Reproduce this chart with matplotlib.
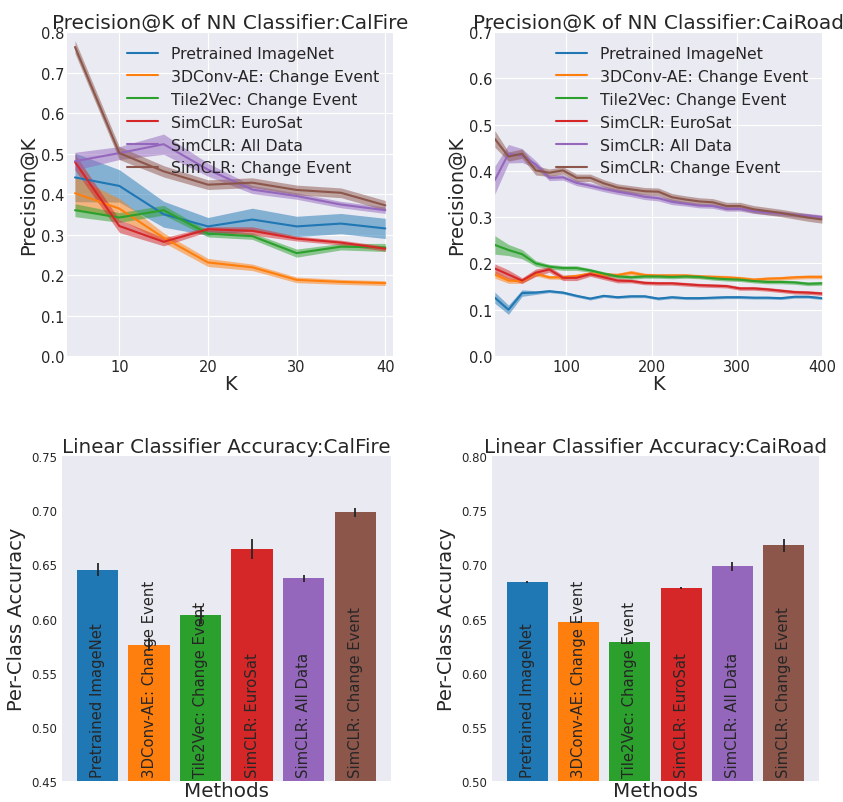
import matplotlib
matplotlib.use('Agg')
import matplotlib.pyplot as plt

methods = ['Pretrained ImageNet', '3DConv-AE: Change Event', 'Tile2Vec: Change Event',
           'SimCLR: EuroSat', 'SimCLR: All Data', 'SimCLR: Change Event']
colors = ['#1f77b4', '#ff7f0e', '#2ca02c', '#d62728', '#9467bd', '#8c564b']

# Precision@K, CalFire
k_fire = [5, 10, 15, 20, 25, 30, 35, 40]
fire_mean = [
    [0.441, 0.420, 0.350, 0.320, 0.337, 0.320, 0.327, 0.315],
    [0.402, 0.364, 0.292, 0.231, 0.219, 0.188, 0.183, 0.180],
    [0.360, 0.342, 0.360, 0.302, 0.296, 0.254, 0.270, 0.268],
    [0.479, 0.321, 0.282, 0.313, 0.309, 0.290, 0.280, 0.265],
    [0.481, 0.501, 0.523, 0.460, 0.411, 0.395, 0.374, 0.360],
    [0.763, 0.501, 0.456, 0.423, 0.428, 0.410, 0.403, 0.372],
]
fire_std = [
    [0.060, 0.040, 0.032, 0.022, 0.028, 0.025, 0.025, 0.025],
    [0.040, 0.025, 0.012, 0.010, 0.008, 0.007, 0.006, 0.006],
    [0.016, 0.012, 0.012, 0.008, 0.008, 0.010, 0.008, 0.010],
    [0.020, 0.016, 0.010, 0.006, 0.010, 0.006, 0.006, 0.006],
    [0.022, 0.016, 0.025, 0.016, 0.010, 0.008, 0.008, 0.008],
    [0.016, 0.016, 0.014, 0.012, 0.012, 0.012, 0.012, 0.012],
]

# Precision@K, CaiRoad
k_road = [16, 32, 48, 64, 80, 96, 112, 128, 144, 160, 176, 192, 208,
          224, 240, 256, 272, 288, 304, 320, 336, 352, 368, 384, 400]
road_mean = [
    [0.126, 0.100, 0.136, 0.137, 0.140, 0.137, 0.130, 0.124, 0.130, 0.127, 0.129, 0.129, 0.124,
     0.127, 0.125, 0.125, 0.126, 0.127, 0.127, 0.126, 0.126, 0.125, 0.128, 0.128, 0.125],
    [0.176, 0.163, 0.162, 0.178, 0.170, 0.170, 0.173, 0.178, 0.176, 0.175, 0.180, 0.175, 0.174,
     0.174, 0.174, 0.172, 0.171, 0.170, 0.168, 0.165, 0.167, 0.168, 0.170, 0.171, 0.171],
    [0.240, 0.229, 0.220, 0.200, 0.193, 0.190, 0.190, 0.185, 0.178, 0.172, 0.170, 0.172, 0.172,
     0.171, 0.172, 0.171, 0.168, 0.166, 0.165, 0.162, 0.160, 0.160, 0.159, 0.156, 0.157],
    [0.189, 0.176, 0.163, 0.180, 0.187, 0.169, 0.169, 0.177, 0.170, 0.163, 0.162, 0.158, 0.157,
     0.157, 0.155, 0.153, 0.152, 0.151, 0.146, 0.146, 0.144, 0.141, 0.138, 0.137, 0.135],
    [0.380, 0.437, 0.433, 0.414, 0.385, 0.386, 0.374, 0.368, 0.361, 0.355, 0.350, 0.344, 0.341,
     0.333, 0.329, 0.325, 0.324, 0.318, 0.318, 0.313, 0.310, 0.308, 0.305, 0.303, 0.300],
    [0.469, 0.431, 0.437, 0.401, 0.396, 0.401, 0.385, 0.385, 0.373, 0.364, 0.360, 0.356, 0.355,
     0.343, 0.338, 0.334, 0.332, 0.324, 0.324, 0.317, 0.313, 0.309, 0.304, 0.299, 0.295],
]
road_std = [
    [0.012, 0.010, 0.007, 0.004, 0.003, 0.003, 0.003, 0.003, 0.003, 0.003, 0.003, 0.003, 0.003,
     0.003, 0.003, 0.003, 0.003, 0.003, 0.003, 0.003, 0.003, 0.003, 0.003, 0.003, 0.003],
    [0.008, 0.006, 0.005, 0.005, 0.004, 0.004, 0.004, 0.004, 0.004, 0.004, 0.005, 0.004, 0.004,
     0.004, 0.004, 0.004, 0.004, 0.004, 0.004, 0.004, 0.004, 0.004, 0.004, 0.004, 0.004],
    [0.020, 0.012, 0.010, 0.006, 0.005, 0.005, 0.005, 0.004, 0.004, 0.004, 0.004, 0.004, 0.004,
     0.004, 0.004, 0.004, 0.004, 0.004, 0.004, 0.004, 0.004, 0.004, 0.004, 0.004, 0.004],
    [0.010, 0.010, 0.006, 0.008, 0.006, 0.006, 0.006, 0.005, 0.005, 0.005, 0.004, 0.004, 0.004,
     0.004, 0.004, 0.004, 0.004, 0.004, 0.004, 0.004, 0.004, 0.004, 0.004, 0.004, 0.004],
    [0.030, 0.020, 0.015, 0.008, 0.006, 0.006, 0.006, 0.006, 0.006, 0.006, 0.006, 0.006, 0.006,
     0.006, 0.005, 0.005, 0.005, 0.005, 0.005, 0.005, 0.005, 0.005, 0.005, 0.005, 0.005],
    [0.018, 0.010, 0.010, 0.010, 0.008, 0.008, 0.008, 0.008, 0.008, 0.008, 0.008, 0.008, 0.008,
     0.008, 0.008, 0.008, 0.008, 0.008, 0.008, 0.008, 0.008, 0.008, 0.008, 0.008, 0.008],
]

# Linear classifier accuracy
fire_acc = [0.645, 0.576, 0.603, 0.664, 0.637, 0.698]
fire_err = [0.006, 0.006, 0.008, 0.009, 0.003, 0.004]
road_acc = [0.684, 0.6465, 0.6287, 0.678, 0.698, 0.7175]
road_err = [0.001, 0.001, 0.001, 0.001, 0.004, 0.006]

plt.style.use('seaborn-v0_8-darkgrid')
plt.rcParams['font.family'] = ['DejaVu Sans']
fig = plt.figure(figsize=(8.43, 8.03), dpi=100)

#上面两幅 Precision@K 曲线
ax1 = fig.add_axes([0.0795, 0.5554, 0.387, 0.4035])
ax2 = fig.add_axes([0.587, 0.5554, 0.388, 0.4035])
top = [(ax1, k_fire, fire_mean, fire_std, 'CalFire', (4.1, 40.9), 0.8),
       (ax2, k_road, road_mean, road_std, 'CaiRoad', (16, 400), 0.7)]
for ax, ks, means, stds, name, xl, ytop in top:
    for i in range(len(methods)):
        lo = [m - s for m, s in zip(means[i], stds[i])]
        hi = [m + s for m, s in zip(means[i], stds[i])]
        ax.plot(ks, means[i], c=colors[i], lw=1.5, label=methods[i])
        ax.fill_between(ks, lo, hi, color=colors[i], alpha=0.5, lw=0)
    ax.set_xlim(*xl)
    ax.set_ylim(0, ytop)
    ax.set_title('Precision@K of NN Classifier:' + name, fontsize=14.4, pad=2)
    ax.set_xlabel('K', fontsize=14, labelpad=0)
    ax.set_ylabel('Precision@K', fontsize=14, labelpad=2)
    ax.tick_params(axis='both', which='major', labelsize=10.5, pad=2)
    ax.legend(loc='upper right', fontsize=11.3, frameon=False)

#下面两幅线性分类器柱状图
ax3 = fig.add_axes([0.0735, 0.026, 0.390, 0.405])
ax4 = fig.add_axes([0.5836, 0.026, 0.388, 0.405])
bottom = [(ax3, fire_acc, fire_err, 'CalFire', (0.45, 0.75)),
          (ax4, road_acc, road_err, 'CaiRoad', (0.50, 0.80))]
for ax, acc, err, name, yl in bottom:
    xs = list(range(len(methods)))
    ax.bar(xs, acc, width=0.8, color=colors)
    ax.errorbar(xs, acc, yerr=err, fmt='none', ecolor='#262626', elinewidth=1.3, capsize=0)
    ax.set_ylim(*yl)
    ax.grid(False)
    ax.set_xticks([])
    for x, lab in zip(xs, methods):
        ax.annotate(lab, (x, yl[0]), xytext=(0, 3), textcoords='offset points',
                    rotation=90, ha='center', va='bottom', fontsize=10.7, color='#262626')
    ax.set_title('Linear Classifier Accuracy:' + name, fontsize=14.3, pad=2)
    ax.set_xlabel('Methods', fontsize=14.3, labelpad=0)
    ax.set_ylabel('Per-Class Accuracy', fontsize=14)
    ax.tick_params(axis='y', labelsize=8.5)

fig.savefig('out.png', dpi=100)
